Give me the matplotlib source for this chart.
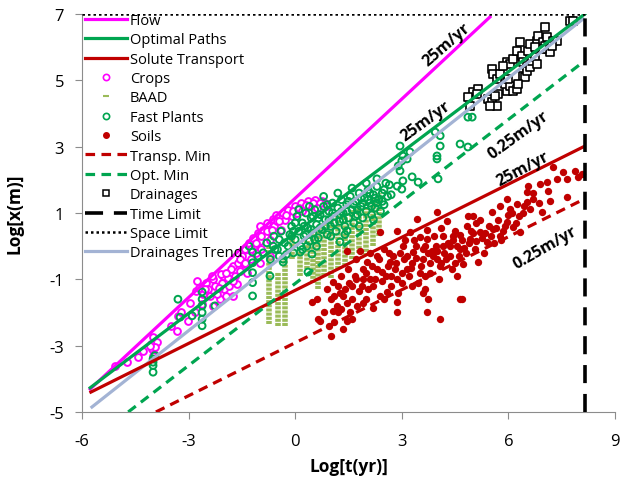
import numpy as np
import matplotlib.pyplot as plt
from matplotlib.lines import Line2D

plt.rcParams['font.family'] = ['Open Sans', 'DejaVu Sans']
plt.rcParams['axes.unicode_minus'] = False

# model lines (Log t, Log x) endpoints
flow_t, flow_x = [-5.77, 5.48], [-4.31, 6.91]
opt_t, opt_x = [-5.77, 8.15], [-4.27, 7.0]
solute_t, solute_x = [-5.75, 8.1], [-4.40, 2.99]
trend_t, trend_x = [-5.72, 8.1], [-4.85, 6.85]
optmin_t, optmin_x = [-4.7, 8.1], [-5.0, 5.55]
transpmin_t, transpmin_x = [-3.92, 8.02], [-5.0, 1.36]
time_limit = 8.15
space_limit = 7.0

# Crops
crops = [(-5.07, -3.61), (-4.73, -3.49), (-4.42, -3.34), (-4.28, -3.16), (-4.0, -2.74),
         (-4.03, -3.1), (-4.05, -2.95), (-3.98, -3.25), (-3.33, -2.56), (-3.3, -2.1),
         (-3.02, -2.26), (-2.82, -1.98), (-2.62, -1.74), (-2.6, -1.2), (-2.31, -1.8),
         (-2.12, -1.59), (-2.03, -0.9), (-1.75, -1.5), (-1.75, -0.6), (-1.36, -0.3),
         (-0.99, 0.61), (-0.62, 0.82), (-2.8, -1.35), (-2.7, -1.25), (-2.6, -1.45),
         (-2.5, -1.1), (-2.45, -1.3), (-2.4, -1.5), (-2.3, -1.0), (-2.25, -1.2),
         (-2.2, -1.45), (-2.1, -0.85), (-2.05, -1.1), (-2.0, -1.3), (-1.95, -1.5),
         (-1.9, -0.95), (-1.85, -1.2), (-1.8, -0.7), (-1.7, -0.9), (-1.65, -1.15),
         (-1.6, -0.5), (-1.55, -0.75), (-1.5, -0.3), (-1.45, -0.55), (-1.4, -0.1),
         (-1.35, -0.8), (-1.3, 0.1), (-1.25, -0.4), (-1.2, 0.25), (-1.15, 0.0),
         (-1.1, -0.2), (-1.05, 0.4), (-1.0, 0.15), (-0.95, -0.1), (-0.9, 0.5),
         (-0.85, 0.3), (-0.8, 0.7), (-0.75, 0.45), (-0.7, 0.2), (-0.6, 0.6),
         (-0.55, 0.95), (-0.5, 0.75), (-0.4, 0.5), (-0.35, 1.0), (-0.3, 0.8),
         (-0.2, 1.1), (-0.1, 0.9), (0.0, 1.2), (0.05, 1.0), (0.15, 1.3),
         (0.25, 1.15), (0.35, 1.35), (0.45, 1.2), (0.55, 1.4), (0.65, 1.25),
         (0.75, 1.35), (0.85, 1.3), (-3.5, -2.4), (-3.2, -2.0), (-2.95, -1.7),
         (-1.0, -0.5), (-0.7, -0.3),
         (-2.75, -1.05), (-2.55, -1.3), (-2.35, -0.9), (-2.15, -1.25), (-1.95, -0.8),
         (-1.75, -1.05), (-1.55, -0.4), (-1.4, -0.5), (-1.25, -0.1), (-1.1, 0.1),
         (-0.95, 0.3), (-0.8, 0.45), (-0.65, 0.5), (-0.45, 0.75), (-0.25, 0.95),
         (-0.05, 1.05), (0.1, 1.15), (0.3, 1.25), (0.5, 1.3), (0.7, 1.3),
         (0.9, 1.2), (0.2, 1.05), (0.6, 1.15), (-3.9, -2.9), (-3.95, -3.05),
         (-4.1, -3.0), (-4.0, -3.3)]

# BAAD: columns of stacked dashes (t, low, high)
baad_t = [-0.74, -0.48, -0.29, -0.09, 0.14, 0.33, 0.5, 0.64, 0.8, 1.0, 1.2,
          1.4, 1.6, 1.8, 2.0, 2.2, 2.35]
baad_lo = [-2.35, -2.4, -2.4, -0.39, -0.9, -0.7, -1.1, -1.29, -0.9, -0.95, -0.7,
           -0.6, -0.4, -0.2, -0.3, 0.0, 0.3]
baad_hi = [0.0, -0.78, -0.39, 0.43, -0.18, 0.2, 0.5, 0.6, 0.7, 0.8, 0.9,
           1.0, 1.1, 1.2, 1.3, 1.5, 1.6]

# Fast plants
fast = [(-4.0, -3.4), (-4.0, -3.5), (-4.0, -3.6), (-4.0, -3.8), (-3.95, -3.3),
        (-3.3, -1.6), (-3.24, -2.14), (-2.9, -2.1), (-2.62, -1.38), (-2.62, -1.6),
        (-2.62, -1.8), (-2.62, -2.0), (-2.62, -2.2), (-2.62, -2.4), (-2.26, -1.8),
        (-1.3, 0.0), (-1.2, -0.18), (-1.2, -0.5), (-1.2, -0.8), (-1.2, -1.1),
        (-1.2, -1.5), (-1.05, -0.3), (-0.71, -0.9), (-0.62, 0.0), (-0.57, -0.1),
        (-0.45, -0.3), (-0.34, -0.39), (-0.34, -0.48),
        (-0.2, 0.0), (-0.15, 0.35), (-0.1, 0.6), (-0.05, -0.2), (0.0, 0.2),
        (0.05, 0.9), (0.1, 0.45), (0.15, 0.0), (0.2, 0.7), (0.25, 0.3),
        (0.3, 1.0), (0.35, 0.55), (0.4, 0.15), (0.45, 0.85), (0.5, 0.4),
        (0.55, 1.1), (0.6, 0.65), (0.65, 0.25), (0.7, 0.95), (0.75, 0.5),
        (0.8, 1.2), (0.85, 0.8), (0.9, 0.35), (0.95, 1.05), (1.0, 0.6),
        (1.05, 1.3), (1.1, 0.9), (1.15, 0.45), (1.2, 1.15), (1.25, 0.75),
        (1.3, 1.4), (1.35, 1.0), (1.4, 0.6), (1.45, 1.25), (1.5, 0.85),
        (1.55, 1.5), (1.6, 1.1), (1.65, 0.7), (1.7, 1.35), (1.75, 0.95),
        (1.8, 1.6), (1.85, 1.2), (1.9, 0.85), (1.95, 1.45), (2.0, 1.05),
        (2.05, 1.7), (2.1, 1.3), (2.15, 0.95), (2.2, 1.55), (2.25, 1.15),
        (2.3, 1.8), (2.35, 1.4), (2.4, 1.05), (2.45, 1.6), (2.5, 1.25),
        (2.55, 1.9), (2.6, 1.5), (0.2, -0.1), (0.6, 0.0), (1.0, 0.3),
        (1.4, 0.35), (1.8, 0.6), (2.2, 0.8), (0.4, 1.2), (0.8, 1.5),
        (1.2, 1.6), (1.6, 1.75), (2.0, 1.9), (0.0, 0.7), (-0.1, 0.3),
        (1.26, 0.13), (1.46, 0.46), (0.47, -0.24), (0.33, 0.0), (0.36, -0.78),
        (0.14, -0.18),
        (-0.9, -0.2), (-0.8, 0.1), (-0.7, -0.4), (-0.6, 0.3), (-0.5, -0.1),
        (-0.45, 0.2), (-0.4, 0.45), (-0.3, 0.1), (-0.25, -0.25), (0.1, 1.1),
        (0.3, 0.35), (0.5, 0.9), (0.7, 0.55), (0.9, 1.25), (1.1, 0.7),
        (1.3, 1.05), (1.5, 1.35), (1.7, 0.9), (1.9, 1.3), (2.1, 1.6),
        (2.3, 1.3), (2.5, 1.7), (2.65, 1.85), (2.7, 1.55), (0.25, 0.6),
        (0.65, 0.85), (1.05, 1.0), (1.45, 1.05), (1.85, 1.45), (2.25, 1.45),
        (0.45, 0.5), (0.85, 0.6), (1.25, 0.95), (1.65, 1.25), (2.05, 1.4),
        (2.45, 1.35), (-0.05, 0.45), (0.55, 0.2), (0.95, 0.8), (1.35, 0.8),
        (1.75, 1.1), (2.15, 1.2),
        (4.86, 3.89), (4.98, 3.89), (3.94, 3.44), (4.08, 3.33), (4.08, 3.02),
        (3.99, 2.63), (4.64, 3.08), (4.86, 2.99), (2.95, 3.02), (3.03, 2.72),
        (3.15, 2.63), (3.23, 2.84), (3.46, 1.93), (2.9, 2.42), (3.0, 2.57),
        (2.95, 2.27), (3.29, 2.09), (3.03, 1.97), (2.3, 2.03), (4.02, 2.03),
        (3.0, 1.72), (2.87, 1.81), (3.99, 2.72)]

# Soils
soils = [(0.47, -1.68), (0.64, -2.2), (1.07, -1.95), (1.07, -1.08), (1.18, -1.8),
         (1.35, -1.5), (1.46, -2.26), (1.46, -0.15), (1.49, -0.69), (1.68, -0.9),
         (1.82, -0.15), (1.88, -1.2), (2.02, -0.48), (2.1, -0.99), (2.3, -0.3),
         (2.39, 0.43), (2.44, -0.78), (2.58, -1.38), (2.67, -0.48), (2.87, 0.46),
         (2.87, -0.99), (2.87, -1.68), (2.87, -1.98), (3.03, 0.0), (3.15, -0.69),
         (3.23, 0.43), (3.32, -0.18), (3.43, 0.82), (3.51, 0.28), (3.65, -0.9),
         (3.65, -1.29), (3.71, 0.22), (3.74, -1.6), (3.88, -0.3), (3.99, 1.03),
         (4.08, -0.6), (4.16, 0.0), (4.27, 0.76), (4.36, -0.3), (4.44, 0.31),
         (4.55, -0.9), (4.7, -1.6), (4.64, -0.09), (4.72, -0.54), (4.84, 0.61),
         (4.92, 0.22), (5.0, 0.91), (5.15, -0.48), (5.2, 0.43), (5.4, 0.12),
         (5.54, 1.03), (5.57, 0.52), (5.76, 0.31), (5.76, 1.21), (5.96, 0.73),
         (6.05, 1.12), (6.13, 0.58), (6.24, 1.27), (6.33, 0.43), (6.52, 1.63),
         (6.52, 1.33), (6.61, 1.12), (6.69, 1.42), (6.89, 1.88), (6.95, 1.03),
         (7.12, 1.66), (7.17, 1.36), (7.37, 2.03), (7.65, 1.48), (7.65, 2.03),
         (5.96, 1.42), (4.08, -2.2), (4.64, -1.6), (3.71, -1.98),
         (7.26, 2.39), (7.54, 2.24), (7.88, 2.27), (8.07, 2.18), (7.95, 2.1),
         (6.55, 1.82), (7.09, 1.94),
         (0.9, -1.3), (1.0, -1.6), (1.2, -1.2), (1.3, -0.9), (1.3, -1.9),
         (1.5, -1.1), (1.6, -1.6), (1.7, -0.4), (1.8, -1.35), (1.9, -0.7),
         (2.0, -1.6), (2.1, -0.2), (2.2, -1.2), (2.3, -0.7), (2.4, -1.5),
         (2.5, -0.1), (2.55, -0.9), (2.7, -1.2), (2.75, -0.3), (2.8, -0.7),
         (3.0, -1.1), (3.05, -0.4), (3.1, 0.2), (3.2, -0.9), (3.3, -0.5),
         (3.4, 0.0), (3.45, -1.1), (3.55, -0.6), (3.6, -0.1), (3.7, 0.5),
         (3.8, -0.8), (3.85, -0.15), (3.9, 0.3), (4.0, -0.4), (4.05, -1.0),
         (4.1, 0.55), (4.2, -0.2), (4.3, 0.1), (4.4, -0.7), (4.5, 0.45),
         (4.6, -0.3), (4.7, 0.2), (4.8, -0.2), (4.85, 0.9), (4.95, 0.45),
         (5.05, -0.1), (5.1, 0.7), (5.25, 0.25), (5.3, -0.2), (5.45, 0.6),
         (5.6, 0.1), (5.7, 0.8), (5.85, 0.45), (6.0, 0.95), (6.2, 0.7),
         (6.4, 1.0), (0.6, -1.6), (0.8, -2.0), (1.1, -2.3), (1.55, -2.0),
         (2.2, -1.85), (1.0, -2.7), (1.35, -2.5), (0.7, -2.26),
         (1.1, -1.5), (1.25, -1.4), (1.4, -1.3), (1.45, -1.7), (1.6, -1.2),
         (1.7, -1.0), (1.75, -1.8), (1.9, -1.0), (2.0, -0.8), (2.05, -1.3),
         (2.15, -0.6), (2.25, -1.0), (2.35, -0.4), (2.45, -1.05), (2.6, -0.6),
         (2.65, -0.2), (2.7, -0.9), (2.85, -0.5), (2.95, -0.2), (3.0, -0.8),
         (3.15, -0.3), (3.25, -0.65), (3.35, 0.2), (3.4, -0.35), (3.5, -0.8),
         (3.6, -0.4), (3.65, 0.0), (3.75, -0.2), (3.8, -0.5), (3.95, 0.0),
         (4.0, -0.15), (4.1, -0.5), (4.15, 0.3), (4.25, -0.4), (4.35, 0.0),
         (4.45, 0.2), (4.5, -0.5), (4.55, 0.0), (4.65, 0.35), (4.75, -0.05),
         (4.9, 0.1), (5.0, 0.4), (5.1, 0.15), (5.2, 0.8), (5.35, 0.4),
         (5.5, 0.3), (5.65, 0.55), (5.8, 0.2), (5.9, 0.6), (6.1, 1.0),
         (6.3, 0.9), (6.45, 1.2), (6.7, 1.6), (6.85, 1.3), (3.3, -1.2),
         (3.6, -1.4), (2.9, -1.4), (2.5, -1.6), (1.9, -1.7), (1.6, -2.2),
         (1.2, -2.0), (0.95, -2.4)]

# Drainages
drain = [(4.92, 4.23), (5.0, 4.65), (5.15, 4.74), (5.12, 4.59), (4.86, 4.5),
         (5.43, 4.44), (5.54, 4.35), (5.68, 4.23), (5.71, 4.59), (5.62, 4.53),
         (5.96, 4.68), (5.9, 4.89), (6.05, 4.83), (6.13, 4.68), (6.24, 4.74),
         (5.99, 5.04), (5.54, 5.34), (5.57, 5.19), (5.68, 5.04), (5.76, 5.19),
         (5.96, 5.55), (6.05, 5.49), (6.13, 5.64), (6.24, 5.88), (6.38, 5.73),
         (6.41, 5.55), (6.52, 5.43), (6.41, 5.13), (6.47, 5.1), (6.52, 5.28),
         (6.61, 5.4), (6.67, 5.58), (6.75, 5.7), (6.81, 5.49), (6.55, 5.88),
         (6.61, 6.1), (6.81, 6.19), (6.84, 6.34), (7.03, 6.61), (6.97, 6.16),
         (7.03, 6.04), (7.09, 6.31), (7.12, 5.94), (7.17, 5.85), (7.26, 6.19),
         (7.37, 6.19), (7.23, 6.04), (6.95, 5.94), (6.75, 6.0), (7.73, 6.79),
         (7.82, 6.79), (6.33, 6.16), (5.48, 4.23), (6.27, 4.89), (5.85, 5.43)]

MAG = '#FF00FF'
GREEN = '#00A550'
RED = '#C00000'
OLIVE = '#9BBB59'
TREND = '#A3B3D4'

fig = plt.figure(figsize=(6.24, 4.81), dpi=100)
ax = fig.add_axes([0.1314, 0.1414, 0.8542, 0.8274])

ct, cx = zip(*crops)
ax.scatter(ct, cx, s=24, facecolors='white', edgecolors=MAG, linewidths=1.4, zorder=3)
ax.vlines(baad_t, baad_lo, baad_hi, colors=OLIVE, linewidth=4,
          linestyles=(0, (0.55, 0.2)), zorder=3)
ft, fx = zip(*fast)
ax.scatter(ft, fx, s=24, facecolors='none', edgecolors=GREEN, linewidths=1.4, zorder=4)
st, sx = zip(*soils)
ax.scatter(st, sx, s=28, color=RED, linewidths=0, zorder=3)
dt, dx = zip(*drain)
ax.scatter(dt, dx, s=32, marker='s', facecolors='white', edgecolors='black',
           linewidths=1.2, zorder=4)

ax.plot(flow_t, flow_x, color=MAG, lw=2.3, zorder=5)
ax.plot(opt_t, opt_x, color=GREEN, lw=2.3, zorder=5)
ax.plot(solute_t, solute_x, color=RED, lw=2.3, zorder=5)
ax.plot(trend_t, trend_x, color=TREND, lw=2.3, zorder=4)
ax.plot(optmin_t, optmin_x, color=GREEN, lw=2.3, ls=(0, (3, 2)), zorder=5)
ax.plot(transpmin_t, transpmin_x, color=RED, lw=2.3, ls=(0, (3, 2)), zorder=5)
ax.plot([time_limit, time_limit], [-5, 7], color='black', lw=2.6, ls=(0, (5, 3)), zorder=6)
ax.plot([-6, time_limit], [space_limit, space_limit], color='black', lw=1.8,
        ls=(0, (1, 1.2)), zorder=6)

notes = [(4.26, 6.10, '25m/yr', 41), (3.67, 3.78, '25m/yr', 36),
         (6.28, 3.35, '0.25m/yr', 36), (6.42, 2.35, '25m/yr', 28),
         (7.03, -0.03, '0.25m/yr', 30)]
for nt, nx, txt, rot in notes:
    ax.text(nt, nx, txt, rotation=rot, rotation_mode='anchor', ha='center',
            va='center', fontsize=11.5, fontweight='bold', zorder=7)

ax.set_xlim(-6, 9)
ax.set_ylim(-5, 7)
ax.set_xticks([-6, -3, 0, 3, 6, 9])
ax.set_yticks([-5, -3, -1, 1, 3, 5, 7])
for s in ['top', 'right']:
    ax.spines[s].set_visible(False)
for s in ['left', 'bottom']:
    ax.spines[s].set_color('#8c8c8c')
ax.tick_params(colors='#8c8c8c', labelcolor='black', labelsize=12, length=5)
ax.tick_params(axis='y', pad=8)
ax.tick_params(axis='x', pad=10)
ax.set_xlabel('Log[t(yr)]', fontsize=12.5, fontweight='bold')
ax.set_ylabel('Log[x(m)]', fontsize=12.5, fontweight='bold')
ax.xaxis.set_label_coords(0.5, -0.113)
ax.yaxis.set_label_coords(-0.11, 0.5)

handles = [
    Line2D([], [], color=MAG, lw=2.3),
    Line2D([], [], color=GREEN, lw=2.3),
    Line2D([], [], color=RED, lw=2.3),
    Line2D([], [], ls='none', marker='o', ms=4.5, mfc='white', mec=MAG, mew=1.2),
    Line2D([], [], ls='none', marker='_', ms=5, mec=OLIVE, mew=1.5),
    Line2D([], [], ls='none', marker='o', ms=4.5, mfc='white', mec=GREEN, mew=1.2),
    Line2D([], [], ls='none', marker='o', ms=4, mfc=RED, mec=RED),
    Line2D([], [], color=RED, lw=2.3, ls=(0, (3, 2))),
    Line2D([], [], color=GREEN, lw=2.3, ls=(0, (3, 2))),
    Line2D([], [], ls='none', marker='s', ms=5, mfc='white', mec='black', mew=1.1),
    Line2D([], [], color='black', lw=2.6, ls=(0, (5, 3))),
    Line2D([], [], color='black', lw=1.8, ls=(0, (1, 1.2))),
    Line2D([], [], color=TREND, lw=2.3),
]
labels = ['Flow', 'Optimal Paths', 'Solute Transport', 'Crops', 'BAAD', 'Fast Plants',
          'Soils', 'Transp. Min', 'Opt. Min', 'Drainages', 'Time Limit', 'Space Limit',
          'Drainages Trend']
ax.legend(handles, labels, loc='upper left', bbox_to_anchor=(0.0, 1.01), frameon=False,
          fontsize=10.5, handlelength=2.9, handletextpad=0.2, labelspacing=0.3,
          borderpad=0.1, borderaxespad=0.1)

fig.savefig('out.png', dpi=100)
